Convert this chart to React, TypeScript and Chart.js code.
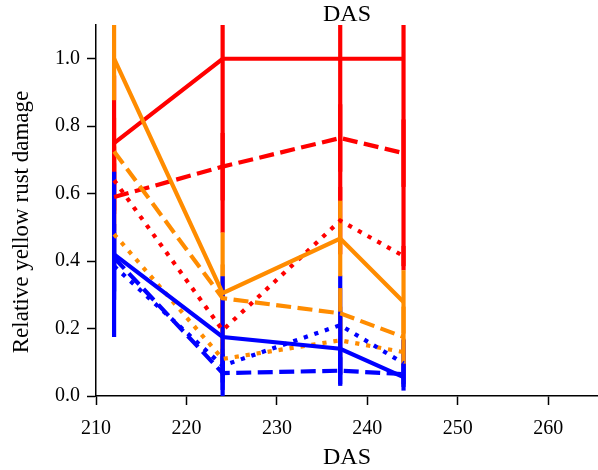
import React, { useEffect, useRef } from "react";
import { Chart, registerables } from "chart.js";

Chart.register(...registerables);

const DAS = [212, 224, 237, 244];
const X_TICKS = [210, 220, 230, 240, 250, 260];
const Y_TICKS = [0, 0.2, 0.4, 0.6, 0.8, 1.0];
const TITLE = "DAS";
const X_LABEL = "DAS";
const Y_LABEL = "Relative yellow rust damage";

const RED_SOLID = [0.75, 1.0, 1.0, 1.0];
const RED_SOLID_ERR = [0.2, 0.516, 0.42, 0.627];
const RED_DASHED = [0.59, 0.68, 0.765, 0.72];
const RED_DASHED_ERR = [0.1, 0.1, 0.1, 0.1];
const RED_DOTTED = [0.64, 0.195, 0.52, 0.415];
const RED_DOTTED_ERR = [0.1, 0.1, 0.1, 0.03];

const ORANGE_SOLID = [1.0, 0.305, 0.467, 0.279];
const ORANGE_SOLID_ERR = [0.123, 0.18, 0.112, 0.094];
const ORANGE_DASHED = [0.725, 0.29, 0.245, 0.175];
const ORANGE_DASHED_ERR = [0.1, 0.1, 0.075, 0.09];
const ORANGE_DOTTED = [0.48, 0.11, 0.165, 0.13];
const ORANGE_DOTTED_ERR = [0.1, 0.05, 0.1, 0.04];

const BLUE_SOLID = [0.42, 0.175, 0.14, 0.056];
const BLUE_SOLID_ERR = [0.245, 0.18, 0.11, 0.04];
const BLUE_DASHED = [0.41, 0.068, 0.075, 0.065];
const BLUE_DASHED_ERR = [0.1, 0.05, 0.04, 0.03];
const BLUE_DOTTED = [0.385, 0.09, 0.21, 0.097];
const BLUE_DOTTED_ERR = [0.1, 0.05, 0.147, 0.07];

const RED = "#ff0000";
const ORANGE = "#ff8c00";
const BLUE = "#0000ff";
const DASHED = [15, 6.5];
const DOTTED = [4.2, 6.9];
const FONT = "'Liberation Serif', 'Times New Roman', serif";
const LW = 4.2;

// drawing order of error bars: dotted, dashed, then solid (later = on top)
const SERIES = [
  { color: RED, dash: DOTTED, values: RED_DOTTED, errors: RED_DOTTED_ERR },
  { color: ORANGE, dash: DOTTED, values: ORANGE_DOTTED, errors: ORANGE_DOTTED_ERR },
  { color: BLUE, dash: DOTTED, values: BLUE_DOTTED, errors: BLUE_DOTTED_ERR },
  { color: RED, dash: DASHED, values: RED_DASHED, errors: RED_DASHED_ERR },
  { color: ORANGE, dash: DASHED, values: ORANGE_DASHED, errors: ORANGE_DASHED_ERR },
  { color: BLUE, dash: DASHED, values: BLUE_DASHED, errors: BLUE_DASHED_ERR },
  { color: RED, dash: [], values: RED_SOLID, errors: RED_SOLID_ERR },
  { color: ORANGE, dash: [], values: ORANGE_SOLID, errors: ORANGE_SOLID_ERR },
  { color: BLUE, dash: [], values: BLUE_SOLID, errors: BLUE_SOLID_ERR },
];

const errorBarPlugin = {
  id: "errorBars",
  beforeDatasetsDraw(chart: any) {
    const { ctx, chartArea, scales } = chart;
    const xs = scales.x;
    const ys = scales.y;
    ctx.save();
    ctx.beginPath();
    ctx.rect(chartArea.left, chartArea.top, chartArea.right - chartArea.left, chartArea.bottom - chartArea.top);
    ctx.clip();
    ctx.lineWidth = LW;
    ctx.lineCap = "butt";
    ctx.setLineDash([]);
    for (const s of SERIES) {
      ctx.strokeStyle = s.color;
      s.values.forEach((v, i) => {
        const e = s.errors[i];
        const px = xs.getPixelForValue(DAS[i]);
        ctx.beginPath();
        ctx.moveTo(px, ys.getPixelForValue(v - e));
        ctx.lineTo(px, ys.getPixelForValue(v + e));
        ctx.stroke();
      });
    }
    ctx.restore();
  },
};

const textPlugin = {
  id: "texts",
  afterDraw(chart: any) {
    const { ctx, chartArea } = chart;
    ctx.save();
    ctx.font = `24px ${FONT}`;
    ctx.fillStyle = "#000";
    ctx.textAlign = "center";
    ctx.textBaseline = "middle";
    ctx.fillText(TITLE, (chartArea.left + chartArea.right) / 2, 15);
    ctx.font = `23px ${FONT}`;
    ctx.translate(22, 222);
    ctx.rotate(-Math.PI / 2);
    ctx.fillText(Y_LABEL, 0, 0);
    ctx.restore();
  },
};

export default function App() {
  const ref = useRef<HTMLCanvasElement | null>(null);
  useEffect(() => {
    document.body.style.margin = "0";
    if (!ref.current) return;
    const datasets = SERIES.slice()
      .reverse()
      .map((s) => ({
        data: DAS.map((x, i) => ({ x, y: s.values[i] })),
        borderColor: s.color,
        backgroundColor: s.color,
        borderWidth: LW,
        borderDash: s.dash,
        borderCapStyle: "butt" as const,
        pointRadius: 0,
        fill: false,
        tension: 0,
      }));
    const chart = new Chart(ref.current, {
      type: "line",
      data: { datasets },
      plugins: [errorBarPlugin, textPlugin],
      options: {
        animation: false,
        responsive: false,
        devicePixelRatio: 1,
        layout: { padding: { top: 25, right: 0, left: 0, bottom: 0 } },
        plugins: { legend: { display: false }, tooltip: { enabled: false }, title: { display: false } },
        scales: {
          x: {
            type: "linear",
            min: 210,
            max: 265.5,
            afterBuildTicks: (s: any) => {
              s.ticks = X_TICKS.map((v) => ({ value: v }));
            },
            afterFit: (s: any) => {
              s.height = 74;
            },
            grid: { display: true, drawOnChartArea: false, drawTicks: true, tickLength: 9, tickWidth: 1.5, color: "#000" },
            border: { display: true, color: "#000", width: 1.5 },
            ticks: { color: "#000", font: { family: FONT, size: 20 }, padding: 12, maxRotation: 0, autoSkip: false },
            title: { display: true, text: X_LABEL, color: "#000", font: { family: FONT, size: 24, lineHeight: 1.0 }, padding: { top: 0, bottom: 0 } },
          },
          y: {
            type: "linear",
            min: 0,
            max: 1.1,
            afterBuildTicks: (s: any) => {
              s.ticks = Y_TICKS.map((v) => ({ value: v }));
            },
            afterFit: (s: any) => {
              s.width = 96;
            },
            grid: { display: true, drawOnChartArea: false, drawTicks: true, tickLength: 9, tickWidth: 1.5, color: "#000" },
            border: { display: true, color: "#000", width: 1.5 },
            ticks: {
              color: "#000",
              font: { family: FONT, size: 20 },
              padding: 7,
              autoSkip: false,
              callback: (v: any) => Number(v).toFixed(1),
            },
            title: { display: false },
          },
        },
      },
    });
    return () => chart.destroy();
  }, []);
  return (
    <div style={{ width: 598, height: 470 }}>
      <canvas ref={ref} width={598} height={470} style={{ display: "block" }} />
    </div>
  );
}
